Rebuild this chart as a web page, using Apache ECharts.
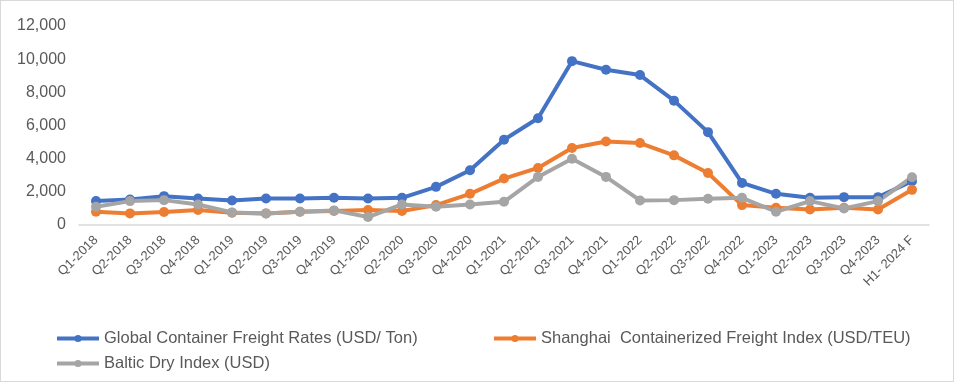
<!DOCTYPE html>
<html><head><meta charset="utf-8">
<script src="https://cdn.jsdelivr.net/npm/echarts@6/dist/echarts.min.js"></script>
<style>
html,body{margin:0;padding:0;background:#fff;}
#c{width:952px;height:380px;border:1px solid #d9d9d9;}
</style></head><body>
<div id="c"></div>
<script>
var categories = ['Q1-2018','Q2-2018','Q3-2018','Q4-2018','Q1-2019','Q2-2019','Q3-2019','Q4-2019','Q1-2020','Q2-2020','Q3-2020','Q4-2020','Q1-2021','Q2-2021','Q3-2021','Q4-2021','Q1-2022','Q2-2022','Q3-2022','Q4-2022','Q1-2023','Q2-2023','Q3-2023','Q4-2023','H1- 2024 F'];
var globalRates = [1440,1540,1740,1600,1480,1600,1600,1640,1600,1640,2300,3300,5140,6440,9880,9360,9040,7500,5600,2540,1880,1640,1680,1680,2640];
var shanghaiIndex = [800,700,780,900,740,700,800,840,900,840,1200,1880,2800,3440,4640,5040,4940,4200,3140,1200,1040,940,1040,940,2120];
var balticIndex = [1100,1440,1500,1240,760,700,800,880,480,1240,1100,1240,1400,2900,4000,2900,1480,1500,1580,1640,800,1440,1000,1440,2880];
var yTicks = [0,2000,4000,6000,8000,10000,12000];
var seriesNames = ['Global Container Freight Rates (USD/ Ton)','Shanghai  Containerized Freight Index (USD/TEU)','Baltic Dry Index (USD)'];

var chart = echarts.init(document.getElementById('c'));
var font = 'Liberation Sans, Arial, sans-serif';
function mk(name, data, color){
  return {name:name,type:'line',data:data,symbol:'circle',symbolSize:10,
    lineStyle:{width:4,color:color},itemStyle:{color:color},animation:false};
}
var legStyle = {fontFamily:font,fontSize:16.5,color:'#595959'};
function leg(name,left,top){
  return {data:[name],left:left,top:top,padding:0,itemWidth:42,itemHeight:9,itemGap:0,
    lineStyle:{width:4},textStyle:legStyle,selectedMode:false};
}
chart.setOption({
  animation:false,
  grid:{left:78,right:24,top:25,bottom:156},
  legend:[
    leg(seriesNames[0],54,329),
    leg(seriesNames[1],491,329),
    leg(seriesNames[2],54,354)
  ],
  xAxis:{type:'category',data:categories,boundaryGap:true,
    axisLine:{lineStyle:{color:'#d9d9d9',width:1.5}},axisTick:{show:false},
    axisLabel:{rotate:45,interval:0,fontFamily:font,fontSize:13,color:'#595959',margin:13}},
  yAxis:{type:'value',min:0,max:12000,interval:2000,
    axisLine:{show:false},axisTick:{show:false},splitLine:{show:false},
    axisLabel:{fontFamily:font,fontSize:16,color:'#595959',margin:13,
      formatter:function(v){return v.toLocaleString('en-US');}}},
  series:[mk(seriesNames[0],globalRates,'#4472C4'),mk(seriesNames[1],shanghaiIndex,'#ED7D31'),mk(seriesNames[2],balticIndex,'#A5A5A5')]
});
</script>
</body></html>
